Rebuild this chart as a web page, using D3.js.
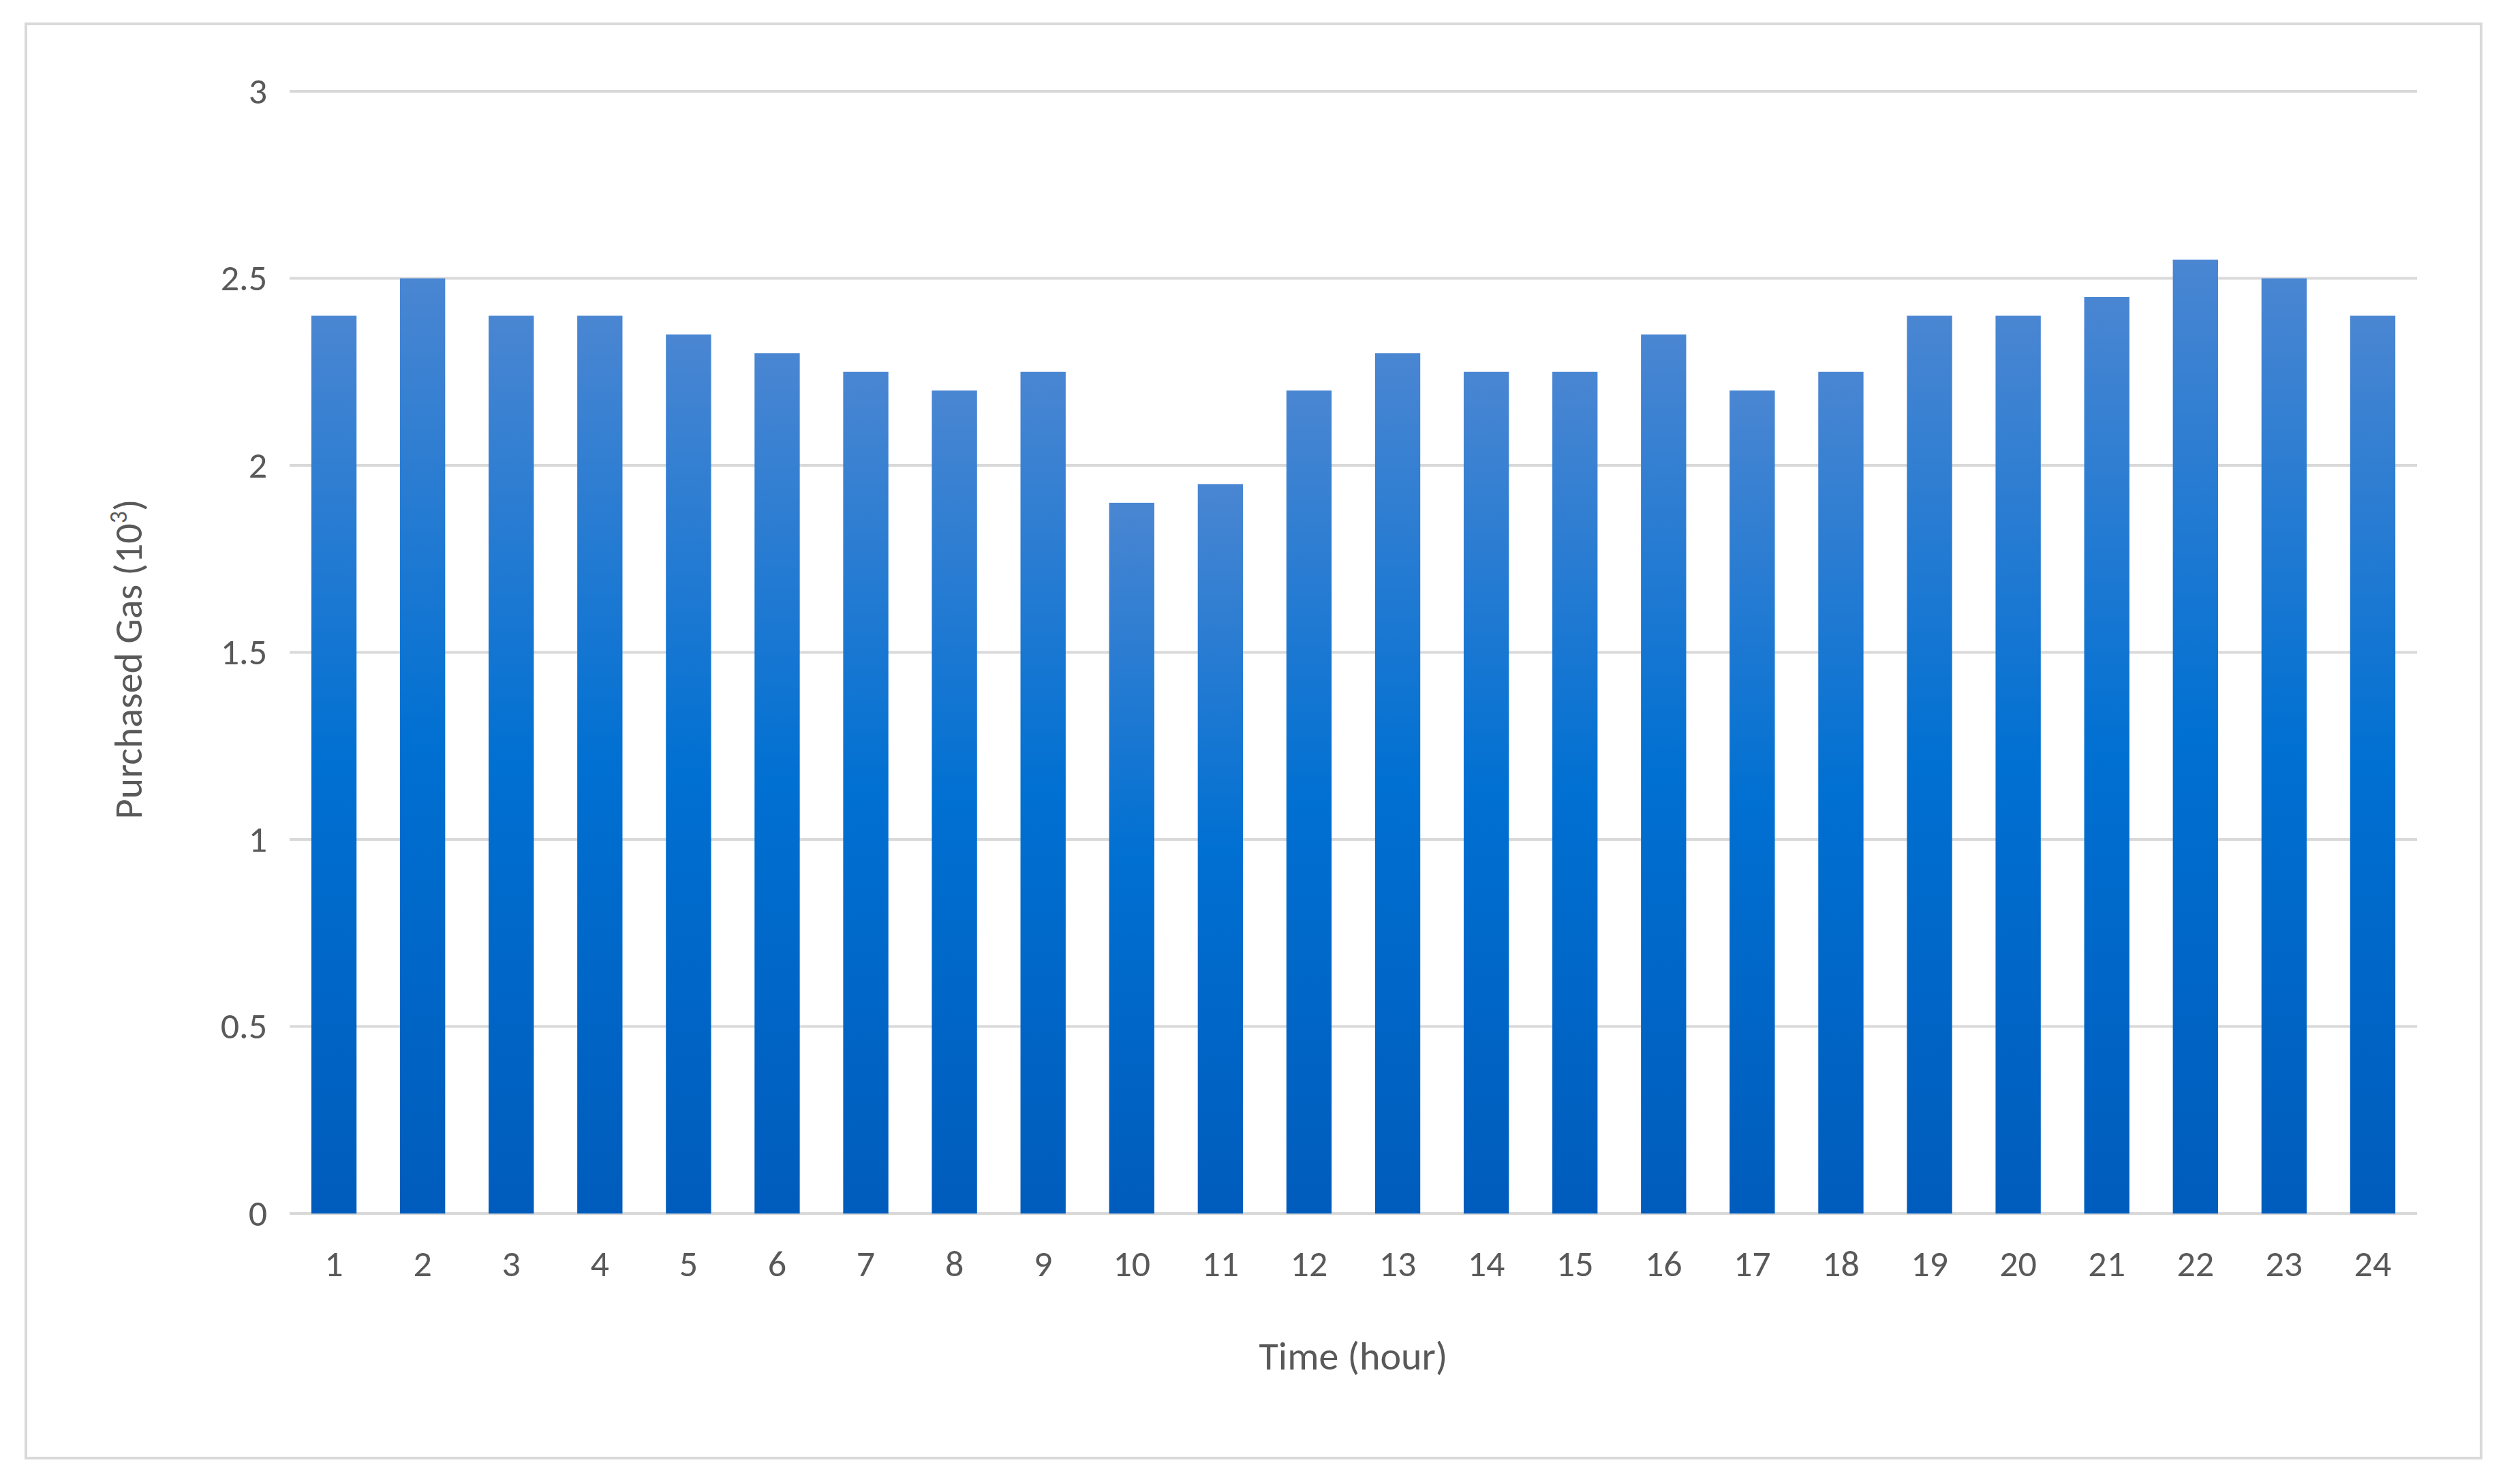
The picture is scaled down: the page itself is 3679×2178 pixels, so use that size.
<!DOCTYPE html>
<html>
<head>
<meta charset="utf-8" />
<script src="https://cdn.jsdelivr.net/npm/d3@7"></script>
<style>
html, body { margin: 0; padding: 0; background: #fff; }
text { font-family: Calibri, Carlito, "Open Sans", sans-serif; fill: #595959; }
</style>
</head>
<body>
<svg id="chart" width="3679" height="2178"></svg>
<script>
var hours = d3.range(1, 25).map(String);
var purchasedGas = [2.4, 2.5, 2.4, 2.4, 2.35, 2.3, 2.25, 2.2, 2.25, 1.9, 1.95, 2.2,
	2.3, 2.25, 2.25, 2.35, 2.2, 2.25, 2.4, 2.4, 2.45, 2.55, 2.5, 2.4];
var yTicks = [0, 0.5, 1, 1.5, 2, 2.5, 3];

(function() {
var svg = d3.select('#chart');
svg.append('rect').attr('x', 38).attr('y', 35).attr('width', 3603).attr('height', 2105)
	.attr('fill', '#fff').attr('stroke', '#d9d9d9').attr('stroke-width', 4);

var plotL = 425, plotR = 3547, plotT = 134, plotB = 1781;
var x = d3.scaleBand().domain(hours).range([plotL, plotR]).paddingInner(0.49).paddingOuter(0.245);
var y = d3.scaleLinear().domain([0, 3]).range([plotB, plotT]);

var grad = svg.append('defs').append('linearGradient').attr('id', 'barGrad')
	.attr('x1', 0).attr('y1', 0).attr('x2', 0).attr('y2', 1);
grad.append('stop').attr('offset', '0%').attr('stop-color', '#4a86d2');
grad.append('stop').attr('offset', '50%').attr('stop-color', '#0070d2');
grad.append('stop').attr('offset', '100%').attr('stop-color', '#005cbc');

// gridlines
svg.append('g').selectAll('line').data(yTicks).enter().append('line')
	.attr('x1', plotL).attr('x2', plotR)
	.attr('y1', function(d) { return y(d); }).attr('y2', function(d) { return y(d); })
	.attr('stroke', '#d9d9d9').attr('stroke-width', 4);

var yAxis = svg.append('g').attr('transform', 'translate(' + (plotL - 30) + ',0)')
	.call(d3.axisLeft(y).tickValues(yTicks).tickSize(0).tickFormat(d3.format('')));
yAxis.select('.domain').remove();
yAxis.selectAll('text').attr('font-size', 54).style('fill', '#595959');

svg.append('g').selectAll('rect').data(purchasedGas).enter().append('rect')
	.attr('x', function(d, i) { return x(hours[i]); })
	.attr('y', function(d) { return y(d); })
	.attr('width', x.bandwidth())
	.attr('height', function(d) { return y(0) - y(d); })
	.attr('fill', 'url(#barGrad)');

var xAxis = svg.append('g').attr('transform', 'translate(0,' + (plotB + 40) + ')')
	.call(d3.axisBottom(x).tickSize(0));
xAxis.select('.domain').remove();
xAxis.selectAll('text').attr('font-size', 54).attr('dy', '0.9em').style('fill', '#595959');

svg.append('text').attr('x', (plotL + plotR) / 2).attr('y', 2010)
	.attr('text-anchor', 'middle').attr('font-size', 58).text('Time (hour)');

var yl = svg.append('text').attr('transform', 'translate(208,' + ((plotT + plotB) / 2 + 10) + ') rotate(-90)')
	.attr('text-anchor', 'middle').attr('font-size', 58);
yl.append('tspan').text('Purchased Gas (10');
yl.append('tspan').attr('font-size', 36).attr('dy', -22).text('3');
yl.append('tspan').attr('dy', 22).text(')');
})();
</script>
</body>
</html>
